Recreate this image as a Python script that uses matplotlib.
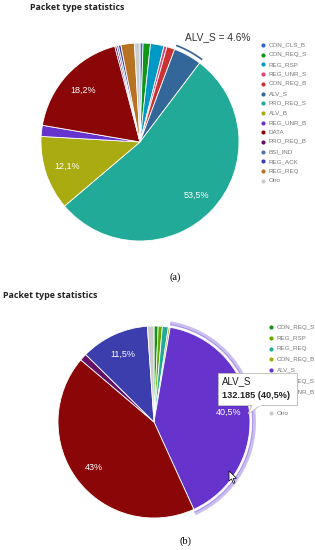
import matplotlib.pyplot as plt
from matplotlib.patches import Wedge, Rectangle, Polygon
import numpy as np

# ---- chart (a) ----
labels_a = ['CON_CLS_B', 'CON_REQ_S', 'REG_RSP', 'REG_UNR_S', 'CON_REQ_B',
            'ALV_S', 'PRO_REQ_S', 'ALV_B', 'REG_UNR_B', 'DATA',
            'PRO_REQ_B', 'BSI_IND', 'REG_ACK', 'REG_REQ', 'Otro']
values_a = [0.5, 1.2, 2.2, 0.5, 1.3, 4.6, 53.5, 12.1, 1.8, 18.2,
            0.3, 0.3, 0.4, 2.2, 0.9]
colors_a = ['#3366cc', '#109618', '#0099c6', '#dd4477', '#cc3131',
            '#336699', '#22aa99', '#aaaa11', '#6633cc', '#8b0707',
            '#651067', '#5574a6', '#3b3eac', '#b77322', '#cccccc']

# ---- chart (b) ----
labels_b = ['CON_REQ_S', 'REG_RSP', 'REG_REQ', 'CON_REQ_B', 'ALV_S',
            'PRO_REQ_S', 'REG_UNR_B', 'DATA', 'Otro']
values_b = [0.7, 0.7, 1.0, 0.3, 40.5, 43.0, 1.2, 11.5, 1.1]
colors_b = ['#109618', '#66aa00', '#22aa99', '#aaaa11', '#6633cc',
            '#8b0707', '#651067', '#3b3eac', '#cccccc']
alv_s_count = '132.185'

W, H = 315, 550
fig = plt.figure(figsize=(3.15, 5.5), dpi=100)


def pie_axes(cx, cy, half=110):
    return fig.add_axes([(cx - half) / W, (H - cy - half) / H, 2 * half / W, 2 * half / H])


def fmt(v):
    s = f'{v:.1f}'.replace('.', ',')
    if s.endswith(',0'):
        s = s[:-2]
    return s + '%'


def draw_pie(ax, values, colors, r):
    wedges, _ = ax.pie(values, colors=colors, radius=r, startangle=90, counterclock=False,
                       wedgeprops=dict(edgecolor='white', linewidth=0.6))
    for w, v in zip(wedges, values):
        if v >= 10:
            ang = np.deg2rad((w.theta1 + w.theta2) / 2)
            ax.text(0.78 * r * np.cos(ang), 0.78 * r * np.sin(ang), fmt(v), color='white',
                    ha='center', va='center', fontsize=6.5, family='Liberation Sans')
    ax.set_xlim(-1.1, 1.1)
    ax.set_ylim(-1.1, 1.1)
    ax.set_aspect('equal')
    ax.axis('off')
    return wedges


# pie (a), ALV_S selected -> thin outer arc
ax1 = pie_axes(140, 142)
r1 = 0.99
wa = draw_pie(ax1, values_a, colors_a, r1)
sel = wa[labels_a.index('ALV_S')]
ax1.add_patch(Wedge((0, 0), r1 + 0.05, sel.theta1, sel.theta2, width=0.017,
                    color=colors_a[labels_a.index('ALV_S')], lw=0))

# pie (b), ALV_S hovered -> lavender halo
ax2 = pie_axes(154, 422)
r2 = 0.96
wb = draw_pie(ax2, values_b, colors_b, r2)
sel = wb[labels_b.index('ALV_S')]
ax2.add_patch(Wedge((0, 0), r2 + 0.06, sel.theta1 - 0.4, sel.theta2 + 0.4, width=0.04,
                    fc='#cbbdf0', ec='none'))
ax2.add_patch(Wedge((0, 0), r2 + 0.032, sel.theta1 - 0.4, sel.theta2 + 0.4, width=0.008,
                    fc='#a48be6', ec='none'))

# overlay in pixel coordinates for titles, legends, tooltip
ov = fig.add_axes([0, 0, 1, 1])
ov.set_xlim(0, W)
ov.set_ylim(H, 0)
ov.axis('off')

ov.text(30, 8, 'Packet type statistics', fontsize=6.4, fontweight='bold',
        family='Open Sans', va='center', color='#222222')
ov.text(3, 295, 'Packet type statistics', fontsize=6.4, fontweight='bold',
        family='Open Sans', va='center', color='#222222')

ov.text(185, 37, f'ALV_S = {values_a[5]}%', fontsize=7.3, family='Liberation Sans',
        va='center', color='#333333')

for i, (lab, c) in enumerate(zip(labels_a, colors_a)):
    y = 45 + i * 9.7
    ov.scatter(263, y, s=9, color=c, lw=0)
    ov.text(268.5, y, lab, fontsize=4.5, color='#777777', va='center', family='Liberation Sans')

for i, (lab, c) in enumerate(zip(labels_b, colors_b)):
    y = 327 + i * 10.8
    ov.scatter(271, y, s=9, color=c, lw=0)
    ov.text(276.5, y, lab, fontsize=4.5, color='#777777', va='center', family='Liberation Sans')

# tooltip (covers part of legend b, as in the screenshot)
ov.add_patch(Rectangle((219, 374), 79, 32, fc='#dddddd', ec='none', zorder=4))
ov.add_patch(Rectangle((218, 373), 79, 32, fc='white', ec='#bbbbbb', lw=0.6, zorder=5))
ov.add_patch(Polygon([(252, 405), (248, 414), (261, 405)], closed=False, fc='white',
                     ec='#bbbbbb', lw=0.6, zorder=6))
ov.plot([252.6, 260.4], [405, 405], color='white', lw=1.0, zorder=7)
ov.text(222, 381, 'ALV_S', fontsize=7, family='Liberation Sans', va='center',
        color='#222222', zorder=8)
ov.text(222, 395, f'{alv_s_count} ({fmt(values_b[4])})', fontsize=6.6, fontweight='bold',
        family='Liberation Sans', va='center', color='#222222', zorder=8)

# mouse cursor
ov.add_patch(Polygon([(229, 471), (229, 481), (231.5, 479), (233.5, 483.5), (235, 482.8),
                      (233, 478.5), (236.5, 478.3)], closed=True, fc='white', ec='black',
                     lw=0.5, zorder=8))

ov.text(175, 277, '(a)', fontsize=7.5, family='Liberation Serif', ha='center', va='center')
ov.text(186, 541, '(b)', fontsize=7.5, family='Liberation Serif', ha='center', va='center')

fig.savefig('out.png', dpi=100)
